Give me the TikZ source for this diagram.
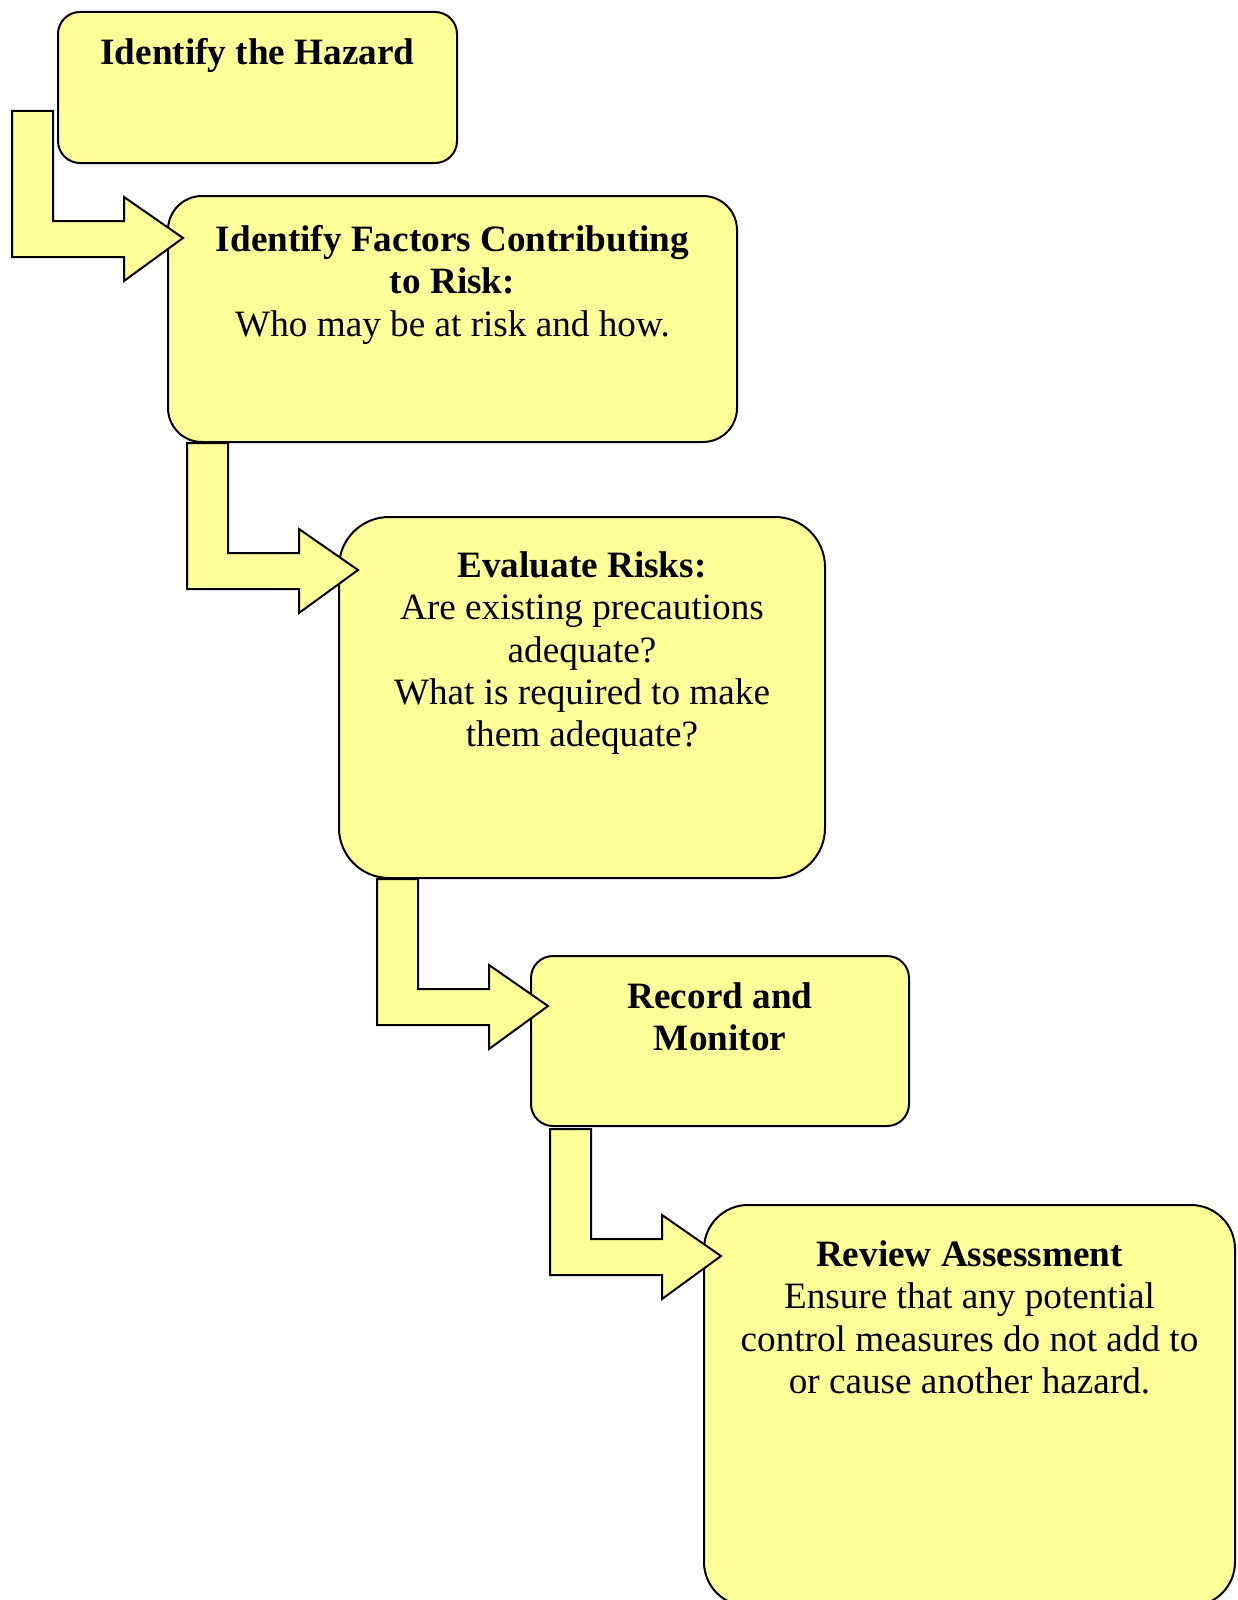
\documentclass[tikz,border=0pt]{standalone}
\usepackage{fontspec}
\setmainfont{Liberation Serif}
\usepackage{tikz}
\usepackage{xcolor}
\usetikzlibrary{calc}
\definecolor{Pale_Yellow}{HTML}{FFFF99}
\definecolor{Ink_Black}{HTML}{000000}

\begin{document}
\begin{tikzpicture}[x=0.5pt, y=-0.5pt,
    panel/.style={draw=Ink_Black, fill=Pale_Yellow, line width=1pt},
    flow/.style={draw=Ink_Black, fill=Pale_Yellow, line width=1pt, line join=miter},
    label/.style={anchor=north, inner sep=0pt, align=center,
        font={\fontsize{18.6pt}{21.2pt}\selectfont}}]
    \useasboundingbox (0,0) rectangle (1237,1600);

    % Boxes
    \draw[panel, rounded corners=11pt] (58,12) rectangle (457,163);
    \draw[panel, rounded corners=17pt] (168,196) rectangle (737,442);
    \draw[panel, rounded corners=25pt] (339,517) rectangle (825,878);
    \draw[panel, rounded corners=11pt] (531,956) rectangle (909,1126);
    \draw[panel, rounded corners=22pt] (704,1205) rectangle (1235,1606);

    % Texts
    \node[label] (hazard) at (257.5,38) {\textbf{Identify the Hazard}};
    \node[label] (factors) at (452.5,225) {\textbf{Identify Factors Contributing}\\
        \textbf{to Risk:}\\Who may be at risk and how.};
    \node[label] (evaluate) at (582,551) {\textbf{Evaluate Risks:}\\Are existing precautions\\
        adequate?\\What is required to make\\them adequate?};
    \node[label] (record) at (720,982) {\textbf{Record and}\\\textbf{Monitor}};
    \node[label] (review) at (969.5,1240) {\textbf{Review Assessment}\\Ensure that any potential\\
        control measures do not add to\\or cause another hazard.};

    % Bent arrows between the steps
    \foreach \sx/\sy in {12/111, 187/443, 377/879, 550/1129} {
        \draw[flow] (\sx,\sy) -- (\sx+41,\sy) -- (\sx+41,\sy+110) -- (\sx+112,\sy+110)
            -- (\sx+112,\sy+86) -- (\sx+171,\sy+127) -- (\sx+112,\sy+170)
            -- (\sx+112,\sy+146) -- (\sx,\sy+146) -- cycle;
    }

\end{tikzpicture}
\end{document}
